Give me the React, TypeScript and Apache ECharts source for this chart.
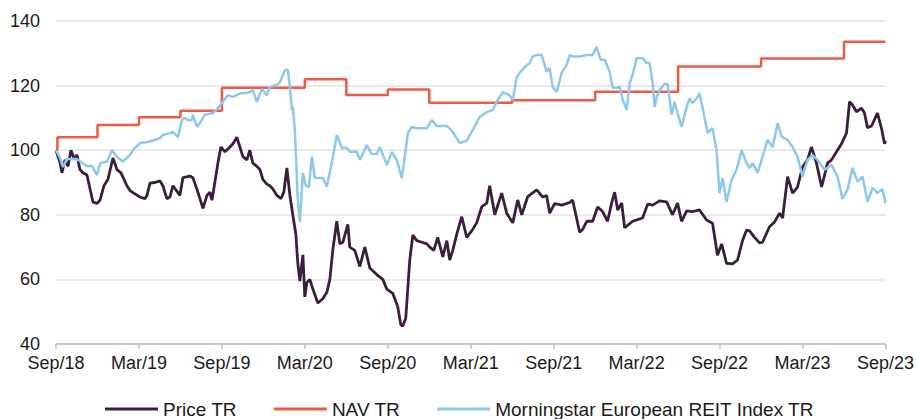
import React, { useEffect, useRef } from "react";
import * as echarts from "echarts";

// x = months since Sep 2018
const xTickLabels = ["Sep/18", "Mar/19", "Sep/19", "Mar/20", "Sep/20", "Mar/21", "Sep/21", "Mar/22", "Sep/22", "Mar/23", "Sep/23"];
const seriesNames = ["Price TR", "NAV TR", "Morningstar European REIT Index TR"];

const pricePoints: [number, number][] = [
  [0, 100], [0.3, 96], [0.43, 93], [0.65, 97], [0.87, 95], [1.08, 100], [1.3, 97.5], [1.52, 98.5], [1.73, 94], [1.95, 93],
  [2.24, 92.3], [2.67, 84], [2.96, 83.5], [3.18, 84.5], [3.47, 89], [3.76, 91], [4.12, 97.6], [4.41, 94], [4.7, 93], [5.13, 89],
  [5.35, 87.5], [5.71, 86.5], [6.07, 85.5], [6.43, 85], [6.58, 86], [6.8, 89.8], [7.16, 90], [7.52, 90.5], [7.73, 89], [8.02, 85],
  [8.24, 85.5], [8.46, 89], [8.96, 86], [9.18, 91.5], [9.69, 92], [9.9, 91.5], [10.19, 88], [10.41, 85], [10.63, 82], [10.92, 86],
  [11.13, 87], [11.28, 84.5], [11.49, 90], [11.71, 96], [11.93, 101], [12.22, 99.5], [12.58, 101], [12.8, 102], [13.08, 104], [13.3, 101],
  [13.52, 98], [13.81, 97], [14.02, 100], [14.24, 96], [14.53, 95], [14.75, 94], [14.96, 91], [15.25, 89.5], [15.47, 89], [15.69, 88],
  [15.98, 86], [16.27, 85], [16.48, 87], [16.7, 94.5], [16.92, 86], [17.13, 80], [17.35, 74], [17.49, 65], [17.64, 59.5], [17.86, 67.6],
  [18.0, 54.6], [18.14, 59], [18.36, 60], [18.58, 57], [18.94, 52.7], [19.3, 54], [19.59, 56], [19.81, 60], [20.02, 69], [20.31, 78],
  [20.53, 71], [20.75, 71.5], [21.11, 77], [21.25, 70], [21.61, 69], [21.98, 64], [22.34, 70], [22.7, 63.5], [23.2, 61.5], [23.64, 60],
  [23.93, 57], [24.36, 55.7], [24.72, 51.5], [24.94, 46], [25.08, 45.5], [25.3, 48], [25.59, 66], [25.81, 73.7], [26.1, 72], [26.46, 71.5],
  [26.82, 71], [27.04, 70], [27.33, 69], [27.61, 73], [27.98, 67], [28.27, 72], [28.48, 66], [28.7, 69], [28.99, 74], [29.35, 79.4],
  [29.71, 73], [30.07, 75], [30.43, 77.5], [30.8, 82.5], [31.16, 83.6], [31.37, 89], [31.74, 80], [32.24, 86.7], [32.6, 80.5], [33.04, 77.5],
  [33.4, 84.6], [33.69, 80], [34.12, 85.6], [34.77, 87.7], [35.21, 85.5], [35.49, 86], [35.71, 80.5], [36.07, 83.5], [36.58, 83], [37.16, 83.8],
  [37.37, 84.6], [37.88, 74.6], [38.1, 75.5], [38.39, 78], [38.82, 78], [39.18, 82.4], [39.54, 81], [39.9, 78], [40.19, 83.6], [40.41, 87],
  [40.63, 81.5], [40.92, 83.7], [41.13, 76], [41.28, 76.5], [41.71, 78], [42.07, 78.5], [42.43, 79], [42.8, 83.3], [43.16, 83], [43.66, 84.3],
  [44.17, 84], [44.6, 80], [44.96, 83.6], [45.25, 78], [45.62, 81.2], [46.05, 81], [46.55, 81.5], [47.06, 78.4], [47.49, 77.4], [47.85, 67.5],
  [48.15, 71], [48.5, 65], [48.94, 64.8], [49.3, 66], [49.66, 72], [49.95, 75.3], [50.17, 75], [50.53, 73], [50.89, 71.3], [51.11, 71.5],
  [51.61, 76.3], [51.98, 77.8], [52.34, 80.5], [52.56, 79], [52.92, 91.8], [53.28, 86.7], [53.64, 88.6], [54.0, 94.8], [54.36, 97], [54.65, 101],
  [55.01, 96], [55.38, 88.6], [55.81, 96], [56.1, 97], [56.46, 99.5], [56.82, 102], [57.18, 105.3], [57.4, 115], [57.62, 114], [57.9, 111.9],
  [58.27, 113], [58.48, 111.5], [58.7, 107], [58.99, 107.5], [59.42, 111.5], [59.71, 106.8], [59.93, 102], [60, 103],
];

const navPoints: [number, number][] = [
  [0, 100], [0.1, 104], [3, 107.8], [6, 110.2], [9, 112.2], [12, 119.3], [18, 122], [21, 117.1],
  [24, 118.8], [27, 114.7], [33, 115.5], [39, 118.1], [45, 125.9], [51, 128.4], [57, 133.6], [60, 133.6],
];

const indexPoints: [number, number][] = [
  [0, 100], [0.3, 97.5], [0.5, 94.8], [0.8, 97.3], [1.5, 97.3], [1.9, 96], [2.3, 95], [2.6, 95.2], [2.96, 92.3], [3.2, 96],
  [3.7, 96.5], [4.05, 100], [4.4, 98], [4.84, 96.5], [5.35, 98.5], [5.57, 100], [6.07, 102.2], [6.58, 102.5], [7.0, 103], [7.5, 103.7],
  [7.73, 104.7], [8.24, 105.3], [8.46, 105.7], [8.82, 104], [9.1, 109.3], [9.3, 110], [9.55, 109.3], [9.83, 109.3], [9.9, 111], [10.2, 107.2],
  [10.4, 108.4], [10.77, 111], [11.35, 111.5], [11.71, 113], [12.07, 115], [12.43, 117], [12.8, 116.5], [13.3, 117.6], [13.67, 117.6], [14.02, 118],
  [14.24, 118.6], [14.53, 115], [14.89, 119], [15.25, 117], [15.47, 119.6], [15.98, 120.2], [16.2, 121], [16.56, 124.8], [16.77, 124.8], [16.92, 119.6],
  [17.06, 112.5], [17.13, 113.4], [17.28, 106], [17.49, 84.6], [17.64, 77.8], [17.86, 93], [18.07, 89], [18.29, 88.6], [18.51, 98], [18.72, 91.4],
  [19.3, 91.4], [19.59, 88.7], [19.95, 96], [20.31, 104.7], [20.68, 100.7], [21.04, 100.7], [21.25, 99.5], [21.76, 99.5], [21.98, 97], [22.48, 101.6],
  [22.84, 98.8], [23.2, 98.8], [23.42, 101], [23.93, 95.4], [24.29, 99.5], [24.65, 97], [25.01, 91.4], [25.23, 98], [25.45, 105.3], [25.74, 107.2],
  [26.1, 106.8], [26.82, 106.8], [27.18, 109.3], [27.54, 107.5], [28.27, 107.5], [28.7, 105.7], [29.2, 102.2], [29.71, 103], [30.14, 106.2], [30.65, 110.3],
  [31.16, 111.8], [31.59, 112.5], [31.88, 115], [32.31, 118], [32.82, 117], [33.04, 115.5], [33.33, 122.7], [33.55, 124], [33.91, 125.8], [34.27, 127],
  [34.48, 129], [34.77, 129.5], [35.13, 129.5], [35.49, 124.3], [35.71, 125.5], [35.93, 119.6], [36.22, 118], [36.58, 124], [36.94, 126.4], [37.16, 129.5],
  [37.37, 129], [37.88, 129], [38.39, 129.5], [38.82, 129.5], [39.1, 132], [39.4, 128], [39.7, 128], [40.05, 124.3], [40.27, 119.3], [40.56, 119.3],
  [40.77, 119.6], [41.0, 115.5], [41.28, 112.5], [41.5, 120.8], [41.71, 123.3], [42.0, 128.5], [42.43, 128.5], [42.72, 127], [42.94, 127], [43.16, 120.8],
  [43.3, 113.4], [43.45, 116.5], [43.66, 118.6], [44.03, 120.5], [44.24, 120.5], [44.53, 111], [44.75, 115], [44.96, 111.5], [45.25, 107.2], [45.62, 113.4],
  [45.83, 116], [46.05, 114.6], [46.34, 116], [46.55, 117.7], [46.92, 110], [47.13, 105.3], [47.49, 106.8], [47.78, 100], [48.0, 86.7], [48.22, 91.4],
  [48.5, 84], [48.87, 90.8], [49.23, 94], [49.59, 100], [49.95, 96], [50.17, 94.5], [50.39, 96], [50.75, 93], [51.11, 98], [51.47, 103.2],
  [51.84, 101], [52.2, 108.4], [52.49, 104.2], [52.92, 103.2], [53.28, 101], [53.64, 98], [54.0, 91.8], [54.36, 97], [54.72, 98.5], [55.08, 97],
  [55.59, 94], [56.1, 95.4], [56.53, 91.8], [56.89, 85], [57.25, 87.7], [57.62, 94.5], [57.98, 90.2], [58.34, 91.8], [58.7, 84], [59.06, 88.3],
  [59.42, 86.7], [59.78, 88], [60, 83.6],
];

const colors = ["#3A1F3D", "#EE5A45", "#8EC8EA"];
const FONT = "'Liberation Sans', Arial, sans-serif";

export default function App() {
  const ref = useRef<HTMLDivElement>(null);
  useEffect(() => {
    if (!ref.current) return;
    const chart = echarts.init(ref.current, undefined, { renderer: "svg" });
    chart.setOption({
      animation: false,
      grid: { left: 56, right: 31, top: 21, bottom: 75, containLabel: false },
      legend: {
        left: 105,
        top: 399,
        padding: 0,
        icon: "rect",
        itemWidth: 53,
        itemHeight: 3,
        itemGap: 37,
        textStyle: { fontFamily: FONT, fontSize: 19, color: "#1a1a1a", lineHeight: 20 },
        data: seriesNames,
      },
      xAxis: {
        type: "value",
        min: 0,
        max: 60,
        interval: 6,
        axisLine: { show: true, lineStyle: { color: "#BFBFBF", width: 1.5 } },
        axisTick: { show: true, length: 5, lineStyle: { color: "#BFBFBF", width: 1.5 } },
        splitLine: { show: false },
        axisLabel: {
          margin: 10,
          fontFamily: FONT,
          fontSize: 18,
          color: "#1a1a1a",
          formatter: (v: number) => xTickLabels[Math.round(v / 6)] ?? "",
        },
      },
      yAxis: {
        type: "value",
        min: 40,
        max: 140,
        interval: 20,
        axisLine: { show: false },
        axisTick: { show: false },
        splitLine: { show: true, lineStyle: { color: "#E3E3E3", width: 1.5 } },
        axisLabel: { margin: 16, fontFamily: FONT, fontSize: 18, color: "#1a1a1a" },
      },
      series: [
        {
          name: seriesNames[0],
          type: "line",
          data: pricePoints,
          symbol: "none",
          lineStyle: { color: colors[0], width: 2.8 },
          itemStyle: { color: colors[0] },
        },
        {
          name: seriesNames[1],
          type: "line",
          data: navPoints,
          step: "end",
          symbol: "none",
          lineStyle: { color: colors[1], width: 2.5 },
          itemStyle: { color: colors[1] },
        },
        {
          name: seriesNames[2],
          type: "line",
          data: indexPoints,
          symbol: "none",
          lineStyle: { color: colors[2], width: 2.5 },
          itemStyle: { color: colors[2] },
        },
      ],
    });
    return () => chart.dispose();
  }, []);
  return (
    <div
      ref={ref}
      style={{ position: "fixed", left: 0, top: 0, width: 917, height: 419, background: "#fff" }}
    />
  );
}
